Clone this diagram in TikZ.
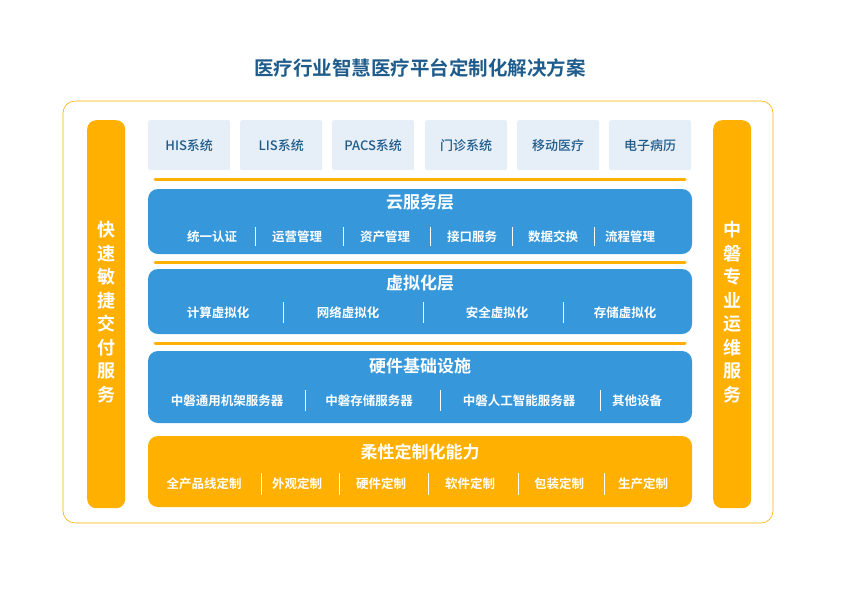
\documentclass[tikz,border=0pt]{standalone}
\usepackage{fontspec}
\setmainfont{Noto Sans CJK SC}
\newfontfamily\cjkb{Noto Sans CJK SC Bold}
\newfontfamily\cjkm{Noto Sans CJK SC Medium}
\definecolor{org}{HTML}{FFB000}
\definecolor{blu}{HTML}{3697DA}
\definecolor{lbl}{HTML}{E6EEF7}
\definecolor{dbl}{HTML}{1F5C8B}
\begin{document}
\begin{tikzpicture}[x=1pt,y=-1pt,
 sysbox/.style={fill=lbl,rounded corners=2pt,minimum width=82pt,minimum height=50pt,anchor=north west,text=dbl,font=\cjkm\fontsize{13}{14}\selectfont},
 ttl/.style={text=white,font=\cjkb\fontsize{17}{19}\selectfont},
 itm/.style={text=white,font=\cjkb\fontsize{12.5}{14}\selectfont},
 sep/.style={white,line width=1pt},
 oline/.style={org,line width=3pt,line cap=round},
 side/.style={fill=org,rounded corners=9pt,minimum width=38pt,minimum height=388pt,anchor=north west},
 vtxt/.style={text=white,font=\cjkb\fontsize{18}{23.5}\selectfont,align=center}]
\useasboundingbox (0,0) rectangle (842,595);
\node[text=dbl,font=\cjkb\fontsize{19.5}{22}\selectfont] (title) at (420,68) {医疗行业智慧医疗平台定制化解决方案};
\draw[org,rounded corners=12pt,line width=0.6pt] (63,101) rectangle (773,523);
\node[side] (lb) at (87,120) {};
\node[side] (rb) at (713,120) {};
\node[vtxt] (lt) at (106,312) {快\\速\\敏\\捷\\交\\付\\服\\务};
\node[vtxt] (rt) at (732,312) {中\\磐\\专\\业\\运\\维\\服\\务};
\node[sysbox] (s1) at (148,120) {HIS系统};
\node[sysbox] (s2) at (240,120) {LIS系统};
\node[sysbox] (s3) at (332,120) {PACS系统};
\node[sysbox] (s4) at (425,120) {门诊系统};
\node[sysbox] (s5) at (517,120) {移动医疗};
\node[sysbox] (s6) at (609,120) {电子病历};
\coordinate (l1a) at (155,179); \coordinate (l1b) at (685,179);
\draw[oline] (l1a) -- (l1b);
\coordinate (l2a) at (155,262); \coordinate (l2b) at (685,262);
\draw[oline] (l2a) -- (l2b);
\coordinate (l3a) at (155,343); \coordinate (l3b) at (685,343);
\draw[oline] (l3a) -- (l3b);
% cloud
\fill[blu,rounded corners=10pt] (148,189) rectangle (692,254);
\node[ttl] (c0) at (420,202) {云服务层};
\foreach \x/\t in {212/统一认证,297/运营管理,385/资产管理,472/接口服务,553/数据交换,630/流程管理}
  \node[itm] at (\x,237) {\t};
\foreach \x in {255,343,430,512,594} \draw[sep] (\x,227) -- (\x,246);
% virtual
\fill[blu,rounded corners=10pt] (148,269) rectangle (692,334);
\node[ttl] (v0) at (420,283) {虚拟化层};
\foreach \x/\t in {218/计算虚拟化,348/网络虚拟化,497/安全虚拟化,625/存储虚拟化}
  \node[itm] at (\x,313) {\t};
\foreach \x in {283,423,563} \draw[sep] (\x,302) -- (\x,323);
% hardware
\fill[blu,rounded corners=10pt] (148,351) rectangle (692,423);
\node[ttl] (h0) at (420,366) {硬件基础设施};
\foreach \x/\t in {227/中磐通用机架服务器,369/中磐存储服务器,519/中磐人工智能服务器,637/其他设备}
  \node[itm] at (\x,401) {\t};
\foreach \x in {305,440,600} \draw[sep] (\x,390) -- (\x,411);
% custom
\fill[org,rounded corners=10pt] (148,436) rectangle (692,507);
\node[ttl] (k0) at (420,452) {柔性定制化能力};
\foreach \x/\t in {204/全产品线定制,297/外观定制,381/硬件定制,470/软件定制,559/包装定制,643/生产定制}
  \node[itm] at (\x,484) {\t};
\foreach \x in {261,339,428,518,604} \draw[sep] (\x,473) -- (\x,495);
\end{tikzpicture}
\end{document}
